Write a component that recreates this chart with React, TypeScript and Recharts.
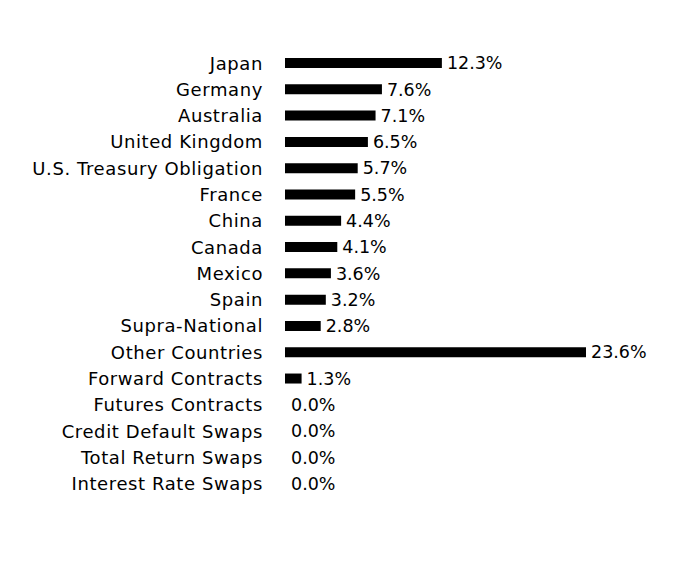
import React from 'react';
import { BarChart, Bar, XAxis, YAxis, LabelList, Cell } from 'recharts';

const categories = [
  'Japan',
  'Germany',
  'Australia',
  'United Kingdom',
  'U.S. Treasury Obligation',
  'France',
  'China',
  'Canada',
  'Mexico',
  'Spain',
  'Supra-National',
  'Other Countries',
  'Forward Contracts',
  'Futures Contracts',
  'Credit Default Swaps',
  'Total Return Swaps',
  'Interest Rate Swaps',
];

const weights = [12.3, 7.6, 7.1, 6.5, 5.7, 5.5, 4.4, 4.1, 3.6, 3.2, 2.8, 23.6, 1.3, 0.0, 0.0, 0.0, 0.0];

const FONT = '"DejaVu Sans", sans-serif';
const tickStyle = { fill: '#000', fontSize: 18, fontFamily: FONT, letterSpacing: 0.6 };
const labelStyle = { fill: '#000', fontSize: 17.5, fontFamily: FONT, letterSpacing: 0 };

export default function App() {
  const data = categories.map((name, i) => ({ name, value: weights[i] }));

  return (
    <div style={{ position: 'absolute', left: 0, top: 0, width: 696, height: 576, background: '#fff' }}>
      <BarChart
        width={696}
        height={576}
        data={data}
        layout="vertical"
        margin={{ top: 50, right: 110, bottom: 79, left: 0 }}
      >
        <XAxis type="number" hide domain={[0, 'dataMax']} />
        <YAxis
          type="category"
          dataKey="name"
          width={285}
          axisLine={false}
          tickLine={false}
          tickMargin={16}
          interval={0}
          tick={tickStyle}
        />
        <Bar dataKey="value" fill="#000" barSize={10} minPointSize={1} isAnimationActive={false}>
          {data.map((d, i) => (
            // zero rows still need a (hidden) bar so the label gets drawn
            <Cell key={i} fill={d.value === 0 ? 'transparent' : '#000'} />
          ))}
          <LabelList
            dataKey="value"
            position="right"
            offset={5}
            formatter={(v: any) => `${Number(v).toFixed(1)}%`}
            style={labelStyle}
          />
        </Bar>
      </BarChart>
    </div>
  );
}
